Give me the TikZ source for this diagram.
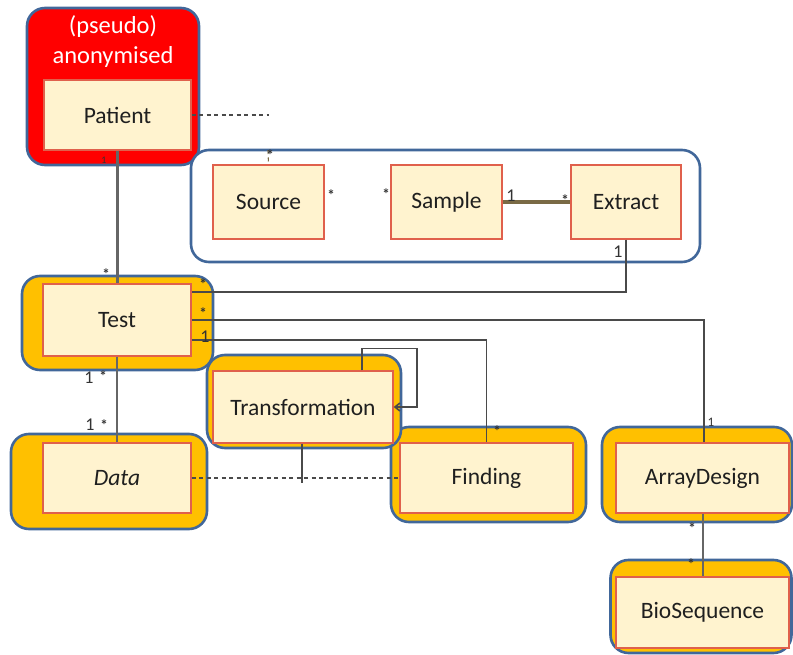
\documentclass[tikz,border=0pt]{standalone}
\usepackage{fontspec}
\setmainfont{Carlito}
\usetikzlibrary{arrows.meta}
\definecolor{grpblue}{HTML}{41679A}
\definecolor{grporange}{HTML}{FFC000}
\definecolor{grpred}{HTML}{FF0000}
\definecolor{clsfill}{HTML}{FFF3CF}
\definecolor{clsedge}{HTML}{E0604C}
\definecolor{wire}{HTML}{4A4A4A}
\definecolor{olive}{HTML}{7A6A45}
\begin{document}
\begin{tikzpicture}[x=1pt,y=-1pt,
  group/.style={draw=grpblue, line width=2.6pt, rounded corners=18pt, inner sep=0pt},
  orangegrp/.style={group, fill=grporange},
  cls/.style={draw=clsedge, line width=1.3pt, fill=clsfill, inner sep=0pt,
    font=\fontsize{23.5}{26}\selectfont, text=black!88},
  wireline/.style={draw=wire, line width=1.6pt},
  dashline/.style={draw=wire, line width=1.1pt, dash pattern=on 4pt off 3.5pt},
  mult/.style={font=\fontsize{18}{19}\selectfont, text=black!80, inner sep=0pt},
  star/.style={font=\bfseries\fontsize{15}{16}\selectfont, text=black!80, inner sep=0pt}]
\useasboundingbox (0,0) rectangle (793,655);

% grouping frames
\node[group, fill=grpred, minimum width=172pt, minimum height=157pt] (patientgrp) at (113,86.5) {};
\node[group, fill=white, minimum width=509pt, minimum height=112pt] (samplegrp) at (445.5,206) {};
\node[orangegrp, minimum width=191pt, minimum height=94pt] (testgrp) at (117.5,323) {};
\node[orangegrp, minimum width=196pt, minimum height=95pt] (datagrp) at (109,481.5) {};
\node[orangegrp, minimum width=195pt, minimum height=95pt] (findgrp) at (488.5,474.5) {};
\node[orangegrp, minimum width=194pt, minimum height=93pt] (transgrp) at (304,401.5) {};
\node[orangegrp, minimum width=190pt, minimum height=95pt] (arraygrp) at (697,474.5) {};
\node[orangegrp, minimum width=181pt, minimum height=93pt] (biogrp) at (701,606.5) {};

\node[text=white, align=center, font=\fontsize{24.5}{30}\selectfont] (anon) at (113,42) {(pseudo)\\anonymised};

% classes
\node[cls, minimum width=147pt, minimum height=70pt] (patient) at (117.5,115) {Patient};
\node[cls, minimum width=111pt, minimum height=74pt] (source) at (268.5,202) {Source};
\node[cls, minimum width=111pt, minimum height=74pt] (sample) at (446.5,202) {Sample};
\node[cls, minimum width=110pt, minimum height=74pt] (extract) at (626,202) {Extract};
\node[cls, minimum width=148pt, minimum height=72pt] (test) at (117,320) {Test};
\node[cls, minimum width=148pt, minimum height=70pt] (data) at (117,478) {\itshape Data};
\node[cls, minimum width=173pt, minimum height=70pt] (finding) at (486.5,478) {Finding};
\node[cls, minimum width=180pt, minimum height=72pt] (trans) at (303,407) {Transformation};
\node[cls, minimum width=173pt, minimum height=70pt] (array) at (702.5,478) {ArrayDesign};
\node[cls, minimum width=173pt, minimum height=71pt] (bio) at (702.5,612.5) {BioSequence};

% associations
\coordinate (patientend) at (269,115);
\coordinate (sourcestub) at (268,150);
\draw[dashline] (patient.east) -- (patientend);
\draw[dashline, draw=olive] (sourcestub) -- (source.north);
\draw[draw=olive, line width=3.2pt] (sample.east) -- (extract.west);
\draw[wireline, draw=black!60, line width=2.4pt] (patient.south) -- (patient.south |- test.north);
\draw[wireline, draw=black!60, line width=2.2pt] (test.south) -- (test.south |- data.north);
\draw[wireline] (extract.south) |- ([yshift=28pt]test.east);
\draw[wireline] (test.east) -| ([xshift=1.5pt]array.north);
\draw[wireline] ([yshift=-20pt]test.east) -| (finding.north);
\draw[wireline, -{Straight Barb[length=5pt,width=8pt]}]
  ([xshift=59pt]trans.north) -- ++(0,-22) -- ++(55,0) |- (trans.east);
\draw[dashline] (data.east) -- (finding.west);
\draw[wireline, line width=1.1pt] ([xshift=-1pt]trans.south) -- ++(0,39);
\draw[wireline, draw=black!60, line width=2pt] (array.south) -- (bio.north);

% multiplicities
\node[star] (m1) at (270,155) {*};
\node[star] (m2) at (331,195) {*};
\node[star] (m3) at (386,194) {*};
\node[mult] (m4) at (511,196) {1};
\node[star] (m5) at (565,200) {*};
\node[mult] (m6) at (618,252) {1};
\node[star] (m7) at (203,284) {*};
\node[star] (m8) at (203,313) {*};
\node[mult] (m9) at (205,337) {1};
\node[star] (m10) at (106,274) {*};
\node[mult, font=\fontsize{10}{11}\selectfont] (m11) at (104,160) {1};
\node[mult] (m12) at (89,378) {1};
\node[star] (m13) at (103,376) {*};
\node[mult] (m14) at (90,425) {1};
\node[star] (m15) at (104,425) {*};
\node[star] (m16) at (497,431) {*};
\node[mult, font=\fontsize{13}{14}\selectfont] (m17) at (711,422) {1};
\node[star] (m18) at (692,528) {*};
\node[star] (m19) at (691,564) {*};
\end{tikzpicture}
\end{document}
